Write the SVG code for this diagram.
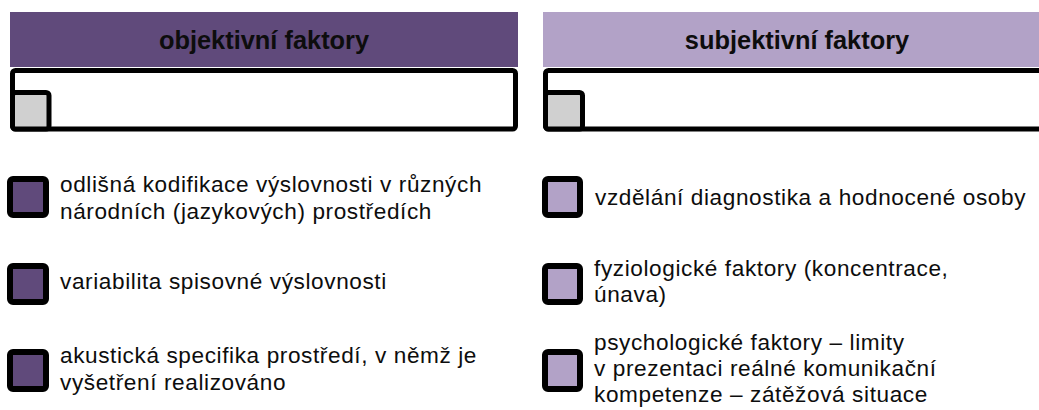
<svg xmlns="http://www.w3.org/2000/svg" width="1039" height="410" viewBox="0 0 1039 410">
  <style>
    .hdr-dark { fill: #604a7b; }
    .hdr-light { fill: #b2a2c7; }
    .hdr-text { font-family: "Liberation Sans", Arial, sans-serif; font-weight: bold; font-size: 25.4px; fill: #0d0d0d; text-anchor: middle; }
    .frame { fill: #ffffff; stroke: #000000; stroke-width: 5; }
    .tab { fill: #d0d0d0; stroke: #000000; stroke-width: 5; }
    .bullet { stroke: #000000; stroke-width: 6; }
    .bullet.dark { fill: #604a7b; }
    .bullet.light { fill: #b2a2c7; }
    .item { font-family: "Liberation Sans", Arial, sans-serif; font-size: 22.6px; letter-spacing: 0.6px; fill: #0d0d0d; }
  </style>
  <rect width="1039" height="410" fill="#ffffff"/>

  <!-- column headers -->
  <g id="objective-header">
    <rect class="hdr-dark" x="10" y="12" width="508" height="55"/>
    <text class="hdr-text" x="264" y="49">objektivní faktory</text>
    <rect class="frame" x="12.5" y="70.5" width="503" height="58.5" rx="3"/>
    <rect class="tab" x="12.5" y="92.5" width="36.5" height="36.5" rx="3"/>
  </g>
  <g id="subjective-header">
    <rect class="hdr-light" x="543" y="12" width="508" height="55"/>
    <text class="hdr-text" x="797" y="49">subjektivní faktory</text>
    <rect class="frame" x="545.5" y="70.5" width="503" height="58.5" rx="3"/>
    <rect class="tab" x="545.5" y="92.5" width="37" height="36.5" rx="3"/>
  </g>

  <!-- objective factors -->
  <g id="obj-1">
    <rect class="bullet dark" x="10" y="179" width="36" height="36" rx="3"/>
    <text class="item" x="60" y="192">odlišná kodifikace výslovnosti v různých</text>
    <text class="item" x="60" y="219">národních (jazykových) prostředích</text>
  </g>
  <g id="obj-2">
    <rect class="bullet dark" x="10" y="266" width="36" height="36" rx="3"/>
    <text class="item" x="60" y="289">variabilita spisovné výslovnosti</text>
  </g>
  <g id="obj-3">
    <rect class="bullet dark" x="10" y="352" width="36" height="37" rx="3"/>
    <text class="item" x="60" y="363">akustická specifika prostředí, v němž je</text>
    <text class="item" x="60" y="390">vyšetření realizováno</text>
  </g>

  <!-- subjective factors -->
  <g id="subj-1">
    <rect class="bullet light" x="545" y="179" width="35" height="36" rx="3"/>
    <text class="item" x="595" y="205">vzdělání diagnostika a hodnocené osoby</text>
  </g>
  <g id="subj-2">
    <rect class="bullet light" x="545" y="266" width="35" height="36" rx="3"/>
    <text class="item" x="594" y="276">fyziologické faktory (koncentrace,</text>
    <text class="item" x="594" y="302">únava)</text>
  </g>
  <g id="subj-3">
    <rect class="bullet light" x="545" y="352" width="35" height="37" rx="3"/>
    <text class="item" x="594" y="350">psychologické faktory – limity</text>
    <text class="item" x="594" y="376">v prezentaci reálné komunikační</text>
    <text class="item" x="594" y="402">kompetenze – zátěžová situace</text>
  </g>
</svg>
